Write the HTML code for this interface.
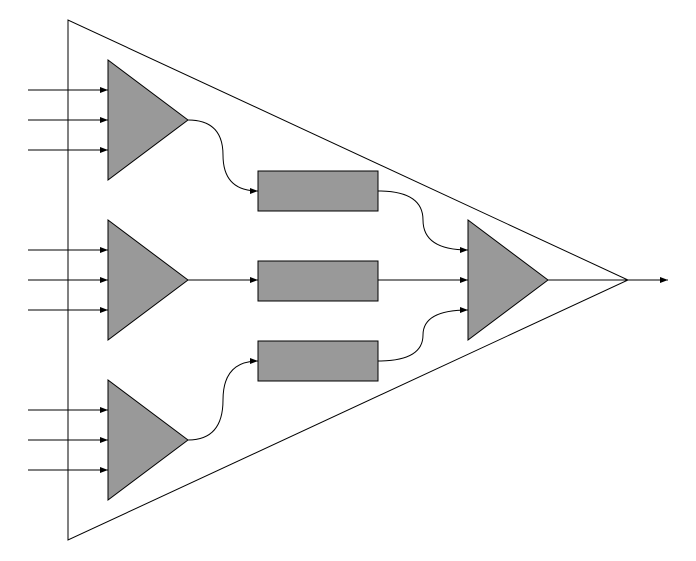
<!DOCTYPE html>
<html>
<head>
<meta charset="utf-8">
<style>
  html,body{margin:0;padding:0;background:#fff;}
  svg{display:block;}
</style>
</head>
<body>
<svg width="696" height="561" viewBox="0 0 696 561" xmlns="http://www.w3.org/2000/svg">
  <defs>
    <marker id="ah" markerWidth="8" markerHeight="6" refX="8" refY="3" orient="auto" markerUnits="userSpaceOnUse">
      <path d="M0,0 L8,3 L0,6 Z" fill="#000"/>
    </marker>
  </defs>
  <polygon points="68,20 68,540 628,280" fill="#fff" stroke="#000" stroke-width="1"/>

  <g stroke="#000" stroke-width="1" marker-end="url(#ah)">
    <line x1="28" y1="90" x2="108" y2="90"/>
    <line x1="28" y1="120" x2="108" y2="120"/>
    <line x1="28" y1="150" x2="108" y2="150"/>
    <line x1="28" y1="250" x2="108" y2="250"/>
    <line x1="28" y1="280" x2="108" y2="280"/>
    <line x1="28" y1="310" x2="108" y2="310"/>
    <line x1="28" y1="410" x2="108" y2="410"/>
    <line x1="28" y1="440" x2="108" y2="440"/>
    <line x1="28" y1="470" x2="108" y2="470"/>
  </g>

  <polygon points="108,60 108,180 188,120" fill="#999" stroke="#000"/>
  <polygon points="108,220 108,340 188,280" fill="#999" stroke="#000"/>
  <polygon points="108,380 108,500 188,440" fill="#999" stroke="#000"/>

  <g fill="none" stroke="#000" stroke-width="1" marker-end="url(#ah)">
    <path d="M188,120 Q223,120 223,155 Q223,191 258,191"/>
    <path d="M188,280 L258,280"/>
    <path d="M188,440 Q223,440 223,400 Q223,361 258,361"/>
    <path d="M378,191 Q423,191 423,220 Q423,250 468,250"/>
    <path d="M378,280 L468,280"/>
    <path d="M378,361 Q423,361 423,335 Q423,310 468,310"/>
  </g>

  <rect x="258" y="171" width="120" height="40" fill="#999" stroke="#000"/>
  <rect x="258" y="261" width="120" height="40" fill="#999" stroke="#000"/>
  <rect x="258" y="341" width="120" height="40" fill="#999" stroke="#000"/>

  <polygon points="468,220 468,340 548,280" fill="#999" stroke="#000"/>
  <line x1="548" y1="280" x2="628" y2="280" stroke="#000"/>
  <line x1="628" y1="280" x2="668" y2="280" stroke="#000" marker-end="url(#ah)"/>
</svg>
</body>
</html>
